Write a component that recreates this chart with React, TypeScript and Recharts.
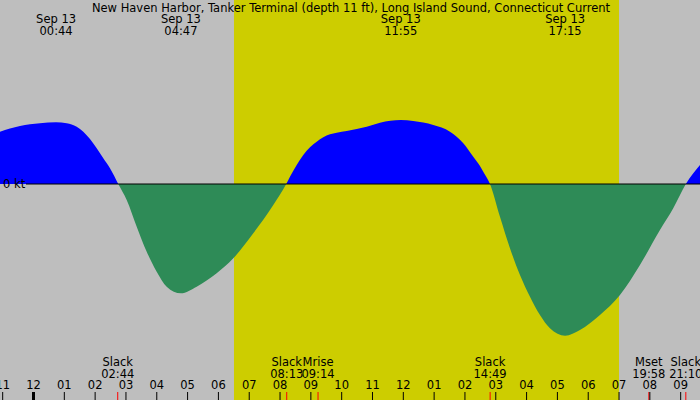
import React from 'react';
import { ComposedChart, Area, XAxis, YAxis, ReferenceArea, ReferenceLine } from 'recharts';

const title = 'New Haven Harbor, Tanker Terminal (depth 11 ft), Long Island Sound, Connecticut Current';

// time in hours since midnight Sep 13
const hours = [
  -1.087, -0.438, 0.211, 0.733, 1.077, 1.402, 1.616, 1.833, 2.051, 2.265, 2.482, 2.75,
  3.024, 3.349, 3.673, 3.997, 4.322, 4.783, 5.295, 5.944, 6.483, 7.132, 7.781, 8.2,
  8.322, 8.54, 8.754, 8.972, 9.189, 9.403, 9.62, 9.838, 10.162, 10.811, 11.243, 11.917, 12.323, 12.972,
  13.514, 13.946, 14.27, 14.488, 14.618, 14.812,
  15.136, 15.461, 15.785, 16.11, 16.434, 16.758, 17.25, 17.732, 18.381, 19.03, 19.679, 20.328, 20.759, 21.167,
  21.627,
];
// current speed in knots (positive = flood, negative = ebb)
const knots = [
  0.523, 0.58, 0.607, 0.618, 0.607, 0.573, 0.523, 0.45, 0.357, 0.257, 0.157, 0,
  -0.16, -0.427, -0.677, -0.877, -1.027, -1.093, -1.027, -0.893, -0.743, -0.493, -0.21, 0,
  0.073, 0.19, 0.29, 0.367, 0.423, 0.467, 0.497, 0.513, 0.53, 0.573, 0.613, 0.64, 0.63, 0.59,
  0.523, 0.407, 0.273, 0.18, 0.11, 0,
  -0.327, -0.643, -0.91, -1.127, -1.31, -1.443, -1.517, -1.46, -1.31, -1.11, -0.81, -0.46, -0.243, 0,
  0.19,
];

const extremaTimes = [0.733, 4.783, 11.917, 17.25];
const extremaDates = ['Sep 13', 'Sep 13', 'Sep 13', 'Sep 13'];
const extremaLabels = ['00:44', '04:47', '11:55', '17:15'];

const eventTimes = [2.733, 8.217, 9.233, 14.817, 19.967, 21.167];
const eventNames = ['Slack', 'Slack', 'Mrise', 'Slack', 'Mset', 'Slack'];
const eventLabels = ['02:44', '08:13', '09:14', '14:49', '19:58', '21:10'];

const hourTicks = [-1, 0, 1, 2, 3, 4, 5, 6, 7, 8, 9, 10, 11, 12, 13, 14, 15, 16, 17, 18, 19, 20, 21];
const midnightTicks = [0];

const sunrise = 6.505;
const sunset = 19.0;
const xDomain = [-1.087, 21.627];
const yDomain = [-2.16, 1.84];
const zeroLineStart = -0.243;

const data = hours.map((t, i) => ({ t, v: knots[i] }));

const CHART_W = 700;
const CHART_H = 400;
const zeroOffset = yDomain[1] / (yDomain[1] - yDomain[0]);

const FONT = 'DejaVu Sans';
const FS = 11.5;
const NIGHT = '#bebebe';
const DAY = '#cdcd00';
const FLOOD = '#0000ff';
const EBB = '#2e8b57';

const hourLabel = (h: number) => {
  const hh = ((h % 12) + 12) % 12;
  const v = hh === 0 ? 12 : hh;
  return v < 10 ? '0' + v : String(v);
};

const makeEventLabel = (i: number) => (props: any) => {
  const x = props.viewBox ? props.viewBox.x : 0;
  return (
    <g>
      <line x1={x} x2={x} y1={392} y2={400} stroke="#ff0000" strokeWidth={1} />
      <text x={x} y={366} textAnchor="middle" fontFamily={FONT} fontSize={FS} fill="#000">
        {eventNames[i]}
      </text>
      <text x={x} y={378} textAnchor="middle" fontFamily={FONT} fontSize={FS} fill="#000">
        {eventLabels[i]}
      </text>
    </g>
  );
};

const makeExtremaLabel = (i: number) => (props: any) => {
  const x = props.viewBox ? props.viewBox.x : 0;
  return (
    <g>
      <text x={x} y={23} textAnchor="middle" fontFamily={FONT} fontSize={FS} fill="#000">
        {extremaDates[i]}
      </text>
      <text x={x} y={35} textAnchor="middle" fontFamily={FONT} fontSize={FS} fill="#000">
        {extremaLabels[i]}
      </text>
    </g>
  );
};

const midnightMark = (props: any) => {
  const x = props.viewBox ? props.viewBox.x : 0;
  return <rect x={x - 1.5} y={392} width={3} height={8} fill="#000" />;
};

const zeroLabel = () => (
  <text x={3} y={188} fontFamily={FONT} fontSize={FS} fill="#000">
    0 kt
  </text>
);

const titleLabel = (props: any) => {
  const x = props.viewBox ? props.viewBox.x : 350;
  return (
    <text x={x + 1} y={12} textAnchor="middle" fontFamily={FONT} fontSize={FS} fill="#000">
      {title}
    </text>
  );
};

export default function App() {
  return (
    <div style={{ position: 'fixed', left: 0, top: 0, width: CHART_W, height: CHART_H, background: NIGHT }}>
      <ComposedChart
        width={CHART_W}
        height={CHART_H}
        data={data}
        margin={{ top: 0, right: 0, bottom: 0, left: 0 }}
      >
        <defs>
          <linearGradient id="floodEbbSplit" gradientUnits="userSpaceOnUse" x1={0} y1={0} x2={0} y2={CHART_H}>
            <stop offset={0} stopColor={FLOOD} />
            <stop offset={zeroOffset} stopColor={FLOOD} />
            <stop offset={zeroOffset} stopColor={EBB} />
            <stop offset={1} stopColor={EBB} />
          </linearGradient>
        </defs>
        <XAxis
          dataKey="t"
          type="number"
          domain={xDomain}
          ticks={hourTicks}
          interval={0}
          mirror
          height={30}
          axisLine={false}
          tickSize={8}
          tickMargin={3}
          tickLine={{ stroke: '#000', strokeWidth: 1 }}
          tick={{ fill: '#000', fontSize: FS, fontFamily: FONT }}
          tickFormatter={hourLabel}
          allowDataOverflow
        />
        <YAxis type="number" domain={yDomain} hide allowDataOverflow />
        <ReferenceArea x1={sunrise} x2={sunset} y1={yDomain[0]} y2={yDomain[1]} fill={DAY} fillOpacity={1} stroke="none" />
        <Area
          type="monotone"
          dataKey="v"
          baseValue={0}
          stroke="none"
          fill="url(#floodEbbSplit)"
          fillOpacity={1}
          isAnimationActive={false}
          dot={false}
          activeDot={false}
        />
        <ReferenceLine
          segment={[{ x: zeroLineStart, y: 0 }, { x: xDomain[1], y: 0 }]}
          stroke="#000"
          strokeWidth={1}
          label={zeroLabel}
        />
        {midnightTicks.map((t) => (
          <ReferenceLine key={'mn' + t} x={t} stroke="none" label={midnightMark} />
        ))}
        {extremaTimes.map((t, i) => (
          <ReferenceLine key={'ex' + i} x={t} stroke="none" label={makeExtremaLabel(i)} />
        ))}
        {eventTimes.map((t, i) => (
          <ReferenceLine key={'ev' + i} x={t} stroke="none" label={makeEventLabel(i)} />
        ))}
        <ReferenceLine x={(xDomain[0] + xDomain[1]) / 2} stroke="none" label={titleLabel} />
      </ComposedChart>
    </div>
  );
}
